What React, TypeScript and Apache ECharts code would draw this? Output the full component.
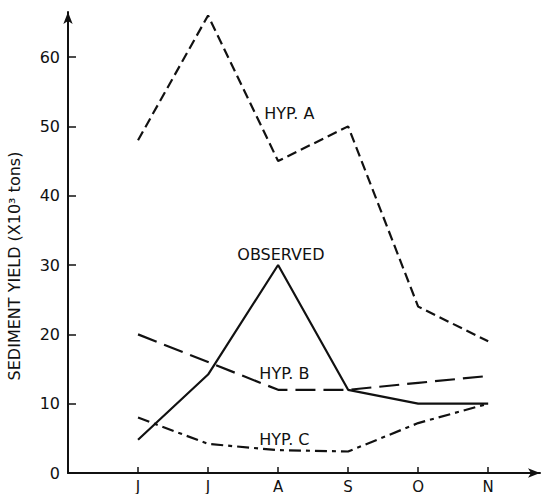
import React, { useEffect, useRef } from "react";
import * as echarts from "echarts";

const months = ["J", "J", "A", "S", "O", "N"];
const monthPos = [1, 2, 3, 4, 5, 6];
const yTicks = [0, 10, 20, 30, 40, 50, 60];
const hypA = [48, 66, 45, 50, 24, 19];
const observed = [4.8, 14.2, 30, 12, 10, 10];
const hypB = [20, 16, 12, 12, 13, 14];
const hypC = [8, 4.2, 3.3, 3.1, 7.2, 10];

const labels = [
  { text: "HYP. A", x: 3.16, y: 51.9 },
  { text: "OBSERVED", x: 3.04, y: 31.5 },
  { text: "HYP. B", x: 3.09, y: 14.4 },
  { text: "HYP. C", x: 3.09, y: 4.9 },
];

const FONT = "DejaVu Sans";
const INK = "#111";

function pts(vals: number[]) {
  return vals.map((v, i) => [monthPos[i], v]);
}

export default function App() {
  const ref = useRef<HTMLDivElement>(null);
  useEffect(() => {
    const chart = echarts.init(ref.current!, null, { renderer: "svg" });
    const lineSeries = (name: string, vals: number[], type: any) => ({
      name,
      type: "line",
      data: pts(vals),
      symbol: "none",
      lineStyle: { color: INK, width: 2.2, type },
      z: 3,
    });
    chart.setOption({
      animation: false,
      backgroundColor: "#fff",
      grid: { left: 68, right: 7, top: 12, bottom: 21 },
      xAxis: {
        type: "value",
        min: 0,
        max: 6.74,
        interval: 1,
        splitLine: { show: false },
        axisLine: {
          lineStyle: { color: INK, width: 2 },
          symbol: ["none", "arrow"],
          symbolSize: [7, 12],
        },
        axisTick: {
          show: true,
          inside: true,
          length: 6,
          customValues: monthPos,
          lineStyle: { color: INK, width: 1.5 },
        },
        axisLabel: {
          customValues: monthPos,
          formatter: (v: number) => months[Math.round(v) - 1] ?? "",
          color: INK,
          fontFamily: FONT,
          fontSize: 15,
          margin: 6,
        },
      },
      yAxis: {
        type: "value",
        min: 0,
        max: 66.5,
        interval: 10,
        splitLine: { show: false },
        axisLine: {
          lineStyle: { color: INK, width: 2 },
          symbol: ["none", "arrow"],
          symbolSize: [7, 12],
        },
        axisTick: {
          show: true,
          inside: true,
          length: 8,
          customValues: yTicks,
          lineStyle: { color: INK, width: 1.5 },
        },
        axisLabel: {
          customValues: yTicks,
          color: INK,
          fontFamily: FONT,
          fontSize: 16,
          margin: 8,
        },
      },
      graphic: [
        {
          type: "text",
          x: 14,
          y: 266,
          rotation: Math.PI / 2,
          style: {
            text: "SEDIMENT YIELD (X10³ tons)",
            fontFamily: FONT,
            fontSize: 16,
            fill: INK,
            align: "center",
            verticalAlign: "middle",
          },
        },
      ],
      series: [
        lineSeries("HYP. A", hypA, [10, 5]),
        lineSeries("OBSERVED", observed, "solid"),
        lineSeries("HYP. B", hypB, [20, 8]),
        lineSeries("HYP. C", hypC, [12, 5, 4, 5]),
        {
          type: "scatter",
          data: labels.map((l) => ({ value: [l.x, l.y], name: l.text })),
          symbolSize: 0,
          silent: true,
          itemStyle: { opacity: 1 },
          label: {
            show: true,
            position: "inside",
            formatter: (p: any) => p.name,
            color: INK,
            fontFamily: FONT,
            fontSize: 16,
            textBorderWidth: 0,
          },
          z: 5,
        },
      ],
    });
    return () => chart.dispose();
  }, []);
  return (
    <div
      ref={ref}
      style={{ position: "fixed", left: 0, top: 0, width: 547, height: 494, background: "#fff" }}
    />
  );
}
